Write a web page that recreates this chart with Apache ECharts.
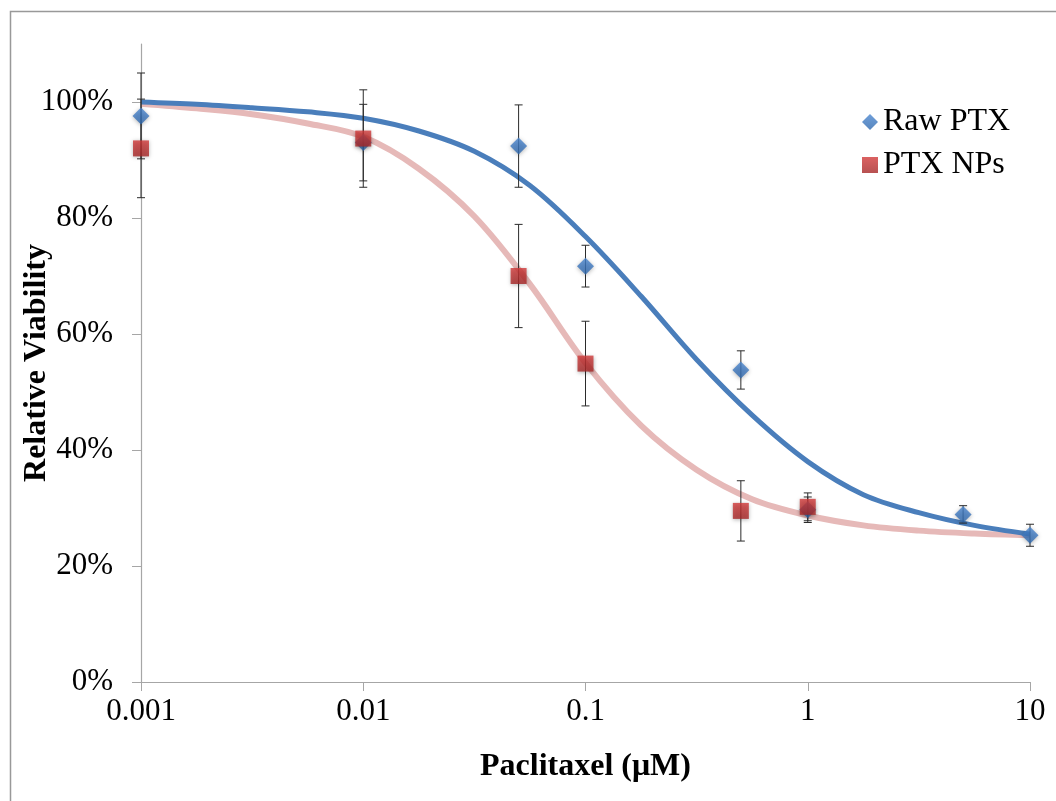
<!DOCTYPE html>
<html>
<head>
<meta charset="utf-8">
<script src="https://cdn.jsdelivr.net/npm/echarts@6/dist/echarts.min.js"></script>
<style>
  html, body { margin: 0; padding: 0; background: #fff; }
  #chart { width: 1056px; height: 801px; }
</style>
</head>
<body>
<div id="chart"></div>
<script>
// measured points (dose in uM, viability in %)
var rawDose = [0.001, 0.01, 0.05, 0.1, 0.5, 1, 5, 10];
var rawMean = [97.6, 93.0, 92.4, 71.7, 53.8, 29.7, 28.9, 25.3];
var rawErr = [7.4, 6.6, 7.1, 3.6, 3.3, 2.2, 1.5, 1.9];

var npDose = [0.001, 0.01, 0.05, 0.1, 0.5, 1];
var npMean = [92.0, 93.7, 70.0, 54.9, 29.5, 30.2];
var npErr = [8.5, 8.4, 8.9, 7.3, 5.2, 2.4];

// fitted curves at quarter-decade steps
var curveDose = [0.001, 0.00178, 0.00316, 0.00562, 0.01, 0.0178, 0.0316, 0.0562, 0.1,
  0.178, 0.316, 0.562, 1, 1.78, 3.16, 5.62, 10];
var rawCurve = [100, 99.6, 99.0, 98.3, 97.2, 95.0, 91.5, 85.6, 76.8,
  66.5, 55.6, 46.0, 38.0, 32.3, 29.2, 27.0, 25.5];
var npCurve = [99.7, 98.9, 97.9, 96.3, 94.0, 88.5, 80.3, 68.6, 55.0,
  44.2, 36.6, 31.5, 28.7, 27.0, 26.1, 25.6, 25.3];

var yTicks = [0, 20, 40, 60, 80, 100];

var serif = 'Liberation Serif';

function pairs(xs, ys) {
  return xs.map(function (x, i) { return [x, ys[i]]; });
}

function errorBars(xs, ys, errs) {
  return {
    type: 'custom',
    silent: true,
    z: 3,
    encode: { x: 0, y: 1 },
    renderItem: function (params, api) {
      var x = api.value(0), y = api.value(1), e = api.value(2);
      var hi = api.coord([x, y + e]);
      var lo = api.coord([x, y - e]);
      var w = 4;
      var st = { stroke: '#2b2b2b', lineWidth: 1 };
      return {
        type: 'group',
        children: [
          { type: 'line', shape: { x1: hi[0], y1: hi[1], x2: lo[0], y2: lo[1] }, style: st },
          { type: 'line', shape: { x1: hi[0] - w, y1: hi[1], x2: hi[0] + w, y2: hi[1] }, style: st },
          { type: 'line', shape: { x1: lo[0] - w, y1: lo[1], x2: lo[0] + w, y2: lo[1] }, style: st }
        ]
      };
    },
    data: xs.map(function (x, i) { return [x, ys[i], errs[i]]; })
  };
}

var chart = echarts.init(document.getElementById('chart'));

chart.setOption({
  backgroundColor: '#fff',
  animation: false,
  graphic: [{
    type: 'rect',
    shape: { x: 10.5, y: 11.5, width: 1200, height: 1000 },
    style: { fill: 'none', stroke: '#999', lineWidth: 1.5 },
    silent: true
  }],
  grid: { left: 141, right: 26, top: 44, bottom: 119, outerBoundsMode: 'none' },
  legend: {
    orient: 'vertical',
    left: 857,
    top: 101,
    itemWidth: 16,
    itemHeight: 16,
    itemGap: 11,
    textStyle: { fontFamily: serif, fontSize: 32, color: '#000', lineHeight: 32 },
    data: [
      { name: 'Raw PTX', icon: 'diamond' },
      { name: 'PTX NPs', icon: 'rect' }
    ]
  },
  xAxis: {
    type: 'log',
    logBase: 10,
    min: 0.001,
    max: 10,
    name: 'Paclitaxel (\u03bcM)',
    nameLocation: 'middle',
    nameGap: 69,
    nameMoveOverlap: false,
    nameTextStyle: { fontFamily: serif, fontSize: 32, fontWeight: 'bold', color: '#000' },
    axisLine: { lineStyle: { color: '#a6a6a6', width: 1.2 } },
    axisTick: { length: 9, lineStyle: { color: '#a6a6a6' } },
    minorTick: { show: false },
    splitLine: { show: false },
    axisLabel: {
      margin: 14,
      fontFamily: serif,
      fontSize: 31,
      color: '#000',
      formatter: function (v) { return String(Number(v.toPrecision(6))); }
    }
  },
  yAxis: {
    type: 'value',
    min: 0,
    max: 110,
    name: 'Relative Viability',
    nameLocation: 'middle',
    nameGap: 88,
    nameMoveOverlap: false,
    nameTextStyle: { fontFamily: serif, fontSize: 32, fontWeight: 'bold', color: '#000' },
    axisLine: { show: true, lineStyle: { color: '#a6a6a6', width: 1.2 } },
    axisTick: { show: true, length: 9, customValues: yTicks, lineStyle: { color: '#a6a6a6' } },
    splitLine: { show: false },
    axisLabel: {
      margin: 28,
      fontFamily: serif,
      fontSize: 31,
      color: '#000',
      customValues: yTicks,
      formatter: function (v) { return v + '%'; }
    }
  },
  series: [
    {
      name: 'Raw PTX fit',
      type: 'line',
      smooth: 0.35,
      showSymbol: false,
      silent: true,
      z: 2,
      lineStyle: { color: '#4a7ebb', width: 5 },
      data: pairs(curveDose, rawCurve)
    },
    {
      name: 'PTX NPs fit',
      type: 'line',
      smooth: 0.35,
      showSymbol: false,
      silent: true,
      z: 1,
      lineStyle: { color: '#e6b9b8', width: 6 },
      data: pairs(curveDose, npCurve)
    },
    errorBars(rawDose, rawMean, rawErr),
    errorBars(npDose, npMean, npErr),
    {
      name: 'Raw PTX',
      type: 'scatter',
      symbol: 'diamond',
      symbolSize: 17,
      z: 4,
      itemStyle: {
        color: new echarts.graphic.LinearGradient(0, 0, 0, 1, [
          { offset: 0, color: '#4a86d0' },
          { offset: 1, color: '#2f68ad' }
        ]),
        shadowBlur: 4,
        shadowColor: 'rgba(0,0,0,0.35)',
        shadowOffsetY: 1
      },
      data: pairs(rawDose, rawMean)
    },
    {
      name: 'PTX NPs',
      type: 'scatter',
      symbol: 'rect',
      symbolSize: 16,
      z: 5,
      itemStyle: {
        color: new echarts.graphic.LinearGradient(0, 0, 0, 1, [
          { offset: 0, color: '#d23a3a' },
          { offset: 1, color: '#a52626' }
        ]),
        shadowBlur: 4,
        shadowColor: 'rgba(0,0,0,0.35)',
        shadowOffsetY: 1
      },
      data: pairs(npDose, npMean)
    }
  ]
});
</script>
</body>
</html>
